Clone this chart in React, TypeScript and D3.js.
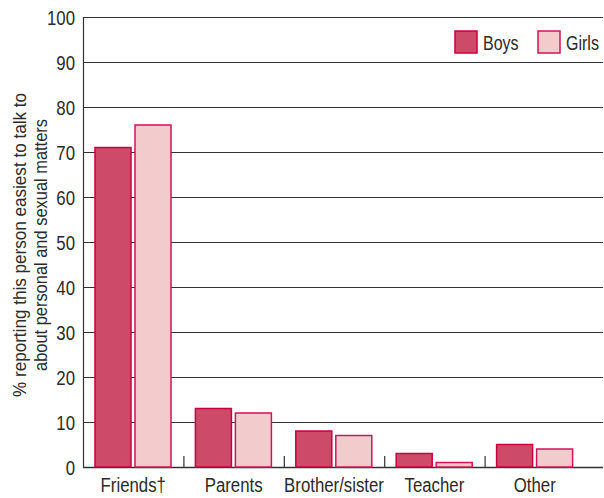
import { useEffect, useRef } from 'react'
import * as d3 from 'd3'

const categories = ['Friends†', 'Parents', 'Brother/sister', 'Teacher', 'Other']
const boys = [71, 13, 8, 3, 5]
const girls = [76, 12, 7, 1, 4]
const yTicks = [0, 10, 20, 30, 40, 50, 60, 70, 80, 90, 100]

const width = 604
const height = 498
const font = '"Liberation Sans", Arial, sans-serif'
const narrow = 0.8
const ink = '#2b2b2b'

export default function App() {
    const svgRef = useRef<SVGSVGElement>(null)

    useEffect(() => {
        if (!svgRef.current) return
        const svg = d3.select(svgRef.current)
        svg.selectAll('*').remove()

        const left = 83
        const right = 603
        const x = d3.scaleBand<string>()
            .domain(categories)
            .range([left, 585])
        const y = d3.scaleLinear().domain([0, 100]).range([467, 17])

        const barW = 36
        const offset = 12
        const gap = 4

        // condensed text helper
        const label = (parent: any, tx: number, ty: number, txt: string, size: number, anchor: string) => {
            parent.append('g')
                .attr('transform', `translate(${tx}, ${ty}) scale(${narrow}, 1)`)
                .append('text')
                .attr('text-anchor', anchor)
                .style('font-family', font)
                .style('font-size', `${size}px`)
                .style('fill', ink)
                .text(txt)
        }

        // Gridlines
        svg.append('g')
            .selectAll('line')
            .data(yTicks)
            .enter()
            .append('line')
            .attr('x1', left)
            .attr('x2', right)
            .attr('y1', d => y(d) + 0.5)
            .attr('y2', d => y(d) + 0.5)
            .attr('stroke', '#333')
            .attr('stroke-width', d => d === 0 ? 1.5 : 1)

        // Y axis line
        svg.append('line')
            .attr('x1', left + 0.5)
            .attr('x2', left + 0.5)
            .attr('y1', y(100))
            .attr('y2', y(0) + 1)
            .attr('stroke', '#333')
            .attr('stroke-width', 1.2)

        // Tick labels
        const tg = svg.append('g')
        yTicks.forEach(t => label(tg, 75, y(t) + 7.5, String(t), 21, 'end'))

        // Category boundary ticks
        svg.append('g')
            .selectAll('line')
            .data(categories.slice(1))
            .enter()
            .append('line')
            .attr('x1', d => (x(d) ?? 0) + 0.5)
            .attr('x2', d => (x(d) ?? 0) + 0.5)
            .attr('y1', y(0) - 11)
            .attr('y2', y(0))
            .attr('stroke', '#333')
            .attr('stroke-width', 1.2)

        // Bars
        const g = svg.append('g')
        categories.forEach((c, i) => {
            const x0 = x(c) ?? 0
            g.append('rect')
                .attr('x', x0 + offset)
                .attr('y', y(boys[i]))
                .attr('width', barW)
                .attr('height', y(0) - y(boys[i]))
                .attr('fill', '#cd4b68')
                .attr('stroke', '#c9003f')
                .attr('stroke-width', 1.5)
            g.append('rect')
                .attr('x', x0 + offset + barW + gap)
                .attr('y', y(girls[i]))
                .attr('width', barW)
                .attr('height', y(0) - y(girls[i]))
                .attr('fill', '#f2cbcd')
                .attr('stroke', '#d1145a')
                .attr('stroke-width', 1.5)
        })

        // X labels
        const xg = svg.append('g')
        categories.forEach(c => label(xg, (x(c) ?? 0) + x.bandwidth() / 2, 492, c, 21, 'middle'))

        // Y title
        const title = svg.append('text')
            .attr('transform', `translate(26, 245) rotate(-90)`)
            .attr('text-anchor', 'middle')
            .style('font-family', font)
            .style('font-size', '19px')
            .style('fill', ink)
        title.append('tspan').attr('x', 0).attr('y', 0)
            .attr('textLength', 304).attr('lengthAdjust', 'spacingAndGlyphs')
            .text('% reporting this person easiest to talk to')
        title.append('tspan').attr('x', 0).attr('y', 21)
            .attr('textLength', 252).attr('lengthAdjust', 'spacingAndGlyphs')
            .text('about personal and sexual matters')

        // Legend
        const legend = [
            { label: 'Boys', fill: '#cd4b68', stroke: '#c9003f', x: 455 },
            { label: 'Girls', fill: '#f2cbcd', stroke: '#d1145a', x: 538 }
        ]
        const lg = svg.append('g')
        legend.forEach(d => {
            lg.append('rect')
                .attr('x', d.x)
                .attr('y', 31)
                .attr('width', 22)
                .attr('height', 22)
                .attr('fill', d.fill)
                .attr('stroke', d.stroke)
                .attr('stroke-width', 1.5)
            label(lg, d.x + 28, 50, d.label, 20, 'start')
        })
    }, [])

    return (
        <svg ref={svgRef} width={width} height={height}
            style={{ position: 'absolute', left: 0, top: 0, background: '#fff' }}></svg>
    )
}
